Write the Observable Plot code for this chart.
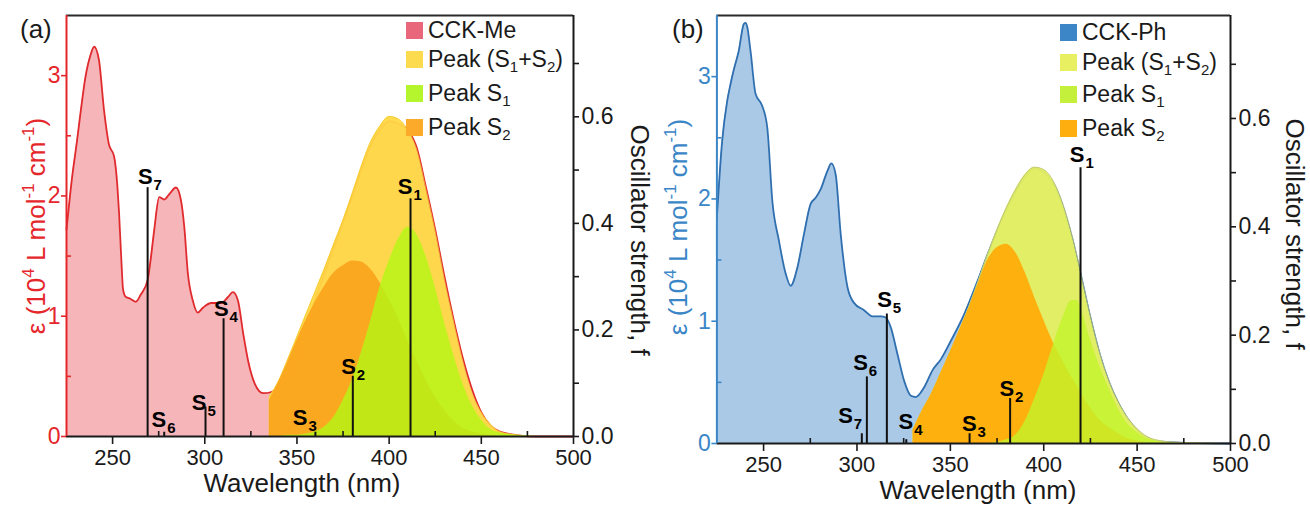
<!DOCTYPE html>
<html><head><meta charset="utf-8">
<script src="https://cdn.jsdelivr.net/npm/d3@7"></script>
<script src="https://cdn.jsdelivr.net/npm/@observablehq/plot@0.6"></script>
<style>
body{margin:0;background:#fff;font-family:"Liberation Sans",Arial,sans-serif}
#wrap{display:flex;width:1310px;height:508px;overflow:hidden}
.panel{position:relative;width:655px;height:508px}
.panel svg{position:absolute;left:0;top:0}
.lg{position:absolute;display:flex;align-items:center;height:22px;font-size:23px;color:#1a1a1a;white-space:nowrap}
.lg .sw{width:17px;height:17px;margin-right:5px;flex:none}
.lg sub{font-size:15px;vertical-align:-5px;line-height:0}
</style></head><body>
<div id="wrap"><div class="panel" id="pa"></div><div class="panel" id="pb"></div></div>
<script>
const FONT = "Liberation Sans, Arial, sans-serif";

// ---------- Panel (a): CCK-Me ----------
const wlMe  = [225,228,230.8,232.6,235.3,238,240,242.6,245.3,248,250.8,252.6,253.5,254.8,255.7,257.2,259,262.6,265.3,269,270.8,272.6,275.3,278,281,284.4,287,288.9,290.8,293.5,296.2,299,303.5,308.9,312.6,315.3,318,320.8,323.5,327.1,331.7,336.2,341.6,347.1,350,355,360,365,370,375,380,385,390,395,400,405,410,415,420,425,430,435,440,445,450,455,460,470,480,500];
const epsMe = [1.72,2.15,2.47,2.69,2.99,3.17,3.24,3.13,2.72,2.43,2.33,2.08,1.86,1.45,1.22,1.16,1.15,1.12,1.18,1.30,1.49,1.72,1.99,1.97,2.02,2.07,1.97,1.74,1.36,1.13,1.03,1.07,1.11,1.11,1.16,1.20,1.13,0.86,0.63,0.44,0.36,0.37,0.44,0.56,0.66,0.90,1.14,1.36,1.57,1.78,2.00,2.22,2.42,2.55,2.62,2.60,2.55,2.40,2.07,1.72,1.33,0.97,0.65,0.39,0.20,0.09,0.04,0.01,0,0];

const wlFitA   = [335,340,345,350,355,360,365,370,375,380,385,390,395,400,405,410,415,420,425,430,435,440,445,450,455,460,470,480,500];
const sumA     = [0.33,0.46,0.64,0.83,1.02,1.21,1.40,1.60,1.80,2.02,2.25,2.45,2.58,2.66,2.64,2.55,2.38,2.05,1.70,1.30,0.95,0.62,0.36,0.20,0.10,0.04,0.01,0,0];
const peakS2A  = [0.30,0.45,0.62,0.80,0.97,1.12,1.25,1.36,1.42,1.46,1.45,1.39,1.28,1.14,0.98,0.80,0.63,0.47,0.33,0.22,0.13,0.07,0.04,0.02,0.01,0,0,0,0];
const peakS1A  = [0,0,0.01,0.01,0.02,0.04,0.08,0.16,0.30,0.47,0.70,0.96,1.24,1.46,1.64,1.74,1.68,1.50,1.24,0.95,0.68,0.44,0.26,0.14,0.06,0.03,0.01,0,0];

const statesA  = ["1","2","3","4","5","6","7"];
const stWlA    = [411.6,380.3,360,310.2,300.4,278,269];
const stFA     = [0.446,0.113,0.008,0.221,0.055,0.008,0.467];
const stDxA    = [2,3,-8,5,1,2,5];
const stDyA    = [-5,-2,-7,-3,3,-5,-4];

// ---------- Panel (b): CCK-Ph ----------
const wlPh  = [225,227.8,230.5,232.3,234.1,236.7,239.4,240.3,241.2,243,245.7,249.3,252,254.7,258.2,261.8,264.5,268.1,271.6,275.2,277.9,280.6,284.2,286.3,288.6,291.3,294.9,298.4,303.8,308.3,312.8,315.4,318.1,321.7,325.3,328.9,331.5,336,340.5,345,350.3,357.5,364.6,370,379,385,390,395,400,405,410,415,420,425,430,435,440,445,450,455,460,470,500];
const epsPh = [1.85,2.47,2.80,2.94,3.06,3.21,3.43,3.44,3.41,3.21,2.86,2.76,2.58,1.98,1.66,1.39,1.29,1.44,1.71,1.96,2.01,2.08,2.23,2.29,2.20,1.71,1.28,1.15,1.09,1.04,1.04,1.03,0.95,0.73,0.51,0.39,0.38,0.46,0.60,0.69,0.84,1.06,1.33,1.55,1.88,2.06,2.18,2.25,2.22,2.13,1.95,1.69,1.37,1.03,0.73,0.50,0.33,0.20,0.11,0.05,0.02,0.01,0];

const wlFitB   = [330,335,340,345,350,355,360,365,370,375,380,385,390,395,400,405,410,415,418,420,425,430,435,440,445,450,455,460,470,500];
const sumB     = [0.11,0.27,0.41,0.58,0.75,0.93,1.12,1.33,1.55,1.75,1.93,2.08,2.20,2.26,2.24,2.15,1.97,1.71,1.52,1.38,1.04,0.74,0.51,0.34,0.21,0.12,0.06,0.03,0.01,0];
const peakS2B  = [0.11,0.27,0.41,0.58,0.75,0.93,1.11,1.31,1.50,1.60,1.63,1.56,1.40,1.20,1.01,0.83,0.68,0.54,0.47,0.41,0.29,0.19,0.13,0.08,0.04,0.02,0.01,0,0,0];
const peakS1B  = [0,0,0,0,0,0,0,0,0,0.01,0.03,0.07,0.18,0.36,0.56,0.80,1.02,1.17,1.17,1.10,0.85,0.63,0.45,0.28,0.16,0.09,0.04,0.02,0,0];

const statesB  = ["1","2","3","4","5","6","7"];
const stWlB    = [419.7,382.0,360.3,326.4,316.0,305.3,302.6];
const stFB     = [0.509,0.083,0.018,0.007,0.239,0.123,0.018];
const stDxB    = [4,4,7,7,5,1,-9];
const stDyB    = [-6,-3,-3,-11,-7,-7,-11];

const xTicks = [250,300,350,400,450,500];
const xMinor = [275,325,375,425,475];
const yTicks = [0,1,2,3];
const yMinor = [0.5,1.5,2.5];
const fTicks = [0,0.2,0.4,0.6];
const fMinor = [0.1,0.3,0.5,0.7];
const K = 4.43; // epsilon units per unit of f (twin axis)

const zip = (xs, ys) => xs.map((x,i) => ({x, y: ys[i]}));

function richText(svg, {x, y, rotate=0, size, fill="#111", anchor="middle", weight="normal"}, parts) {
  const t = d3.select(svg).append("text")
    .attr("transform", `translate(${x},${y}) rotate(${rotate})`)
    .attr("text-anchor", anchor).attr("font-size", size).attr("fill", fill)
    .attr("font-family", FONT).attr("font-weight", weight);
  let shift = 0;
  for (const [s, kind] of parts) {
    const target = kind === "sup" ? -0.42*size : kind === "sub" ? 0.25*size : 0;
    t.append("tspan").attr("dy", target - shift).attr("font-size", kind ? size*0.65 : size).text(s);
    shift = target;
  }
}

function panel(cfg) {
  const abs = zip(cfg.wl, cfg.eps);
  const sum = zip(cfg.wlFit, cfg.sum);
  const s2 = zip(cfg.wlFit, cfg.s2);
  const s1 = zip(cfg.wlFit, cfg.s1);
  const st = cfg.states.map((n,i) => ({n, wl: cfg.stWl[i], f: cfg.stF[i], dx: cfg.stDx[i], dy: cfg.stDy[i]}));
  const curve = "monotone-x";
  const labels = st.flatMap(d => [
    Plot.text([d], {x: "wl", y: v => v.f*K, text: () => "S", textAnchor: "end", lineAnchor: "bottom", dx: d.dx, dy: d.dy, fontSize: 22, fontWeight: "bold", fill: "#000"}),
    Plot.text([d], {x: "wl", y: v => v.f*K, text: "n", textAnchor: "start", lineAnchor: "bottom", dx: d.dx + 1, dy: d.dy + 6, fontSize: 15, fontWeight: "bold", fill: "#000"})
  ]);
  const svg = Plot.plot({
    width: 655, height: 508,
    marginLeft: cfg.ml, marginRight: cfg.mr, marginTop: 15, marginBottom: cfg.mb,
    style: {fontFamily: FONT, background: "transparent", overflow: "visible"},
    x: {domain: [225, 500]},
    y: {domain: [0, 3.5]},
    marks: [
      Plot.areaY(abs, {x: "x", y: "y", fill: cfg.absFill, curve}),
      Plot.lineY(abs, {x: "x", y: "y", stroke: cfg.absLine, strokeWidth: 1.8, curve}),
      Plot.areaY(sum, {x: "x", y: "y", fill: cfg.sumFill, fillOpacity: 0.94, curve}),
      Plot.lineY(sum, {x: "x", y: "y", stroke: cfg.sumEdge, strokeWidth: 0.8, curve}),
      Plot.areaY(s2, {x: "x", y: "y", fill: cfg.s2Fill, fillOpacity: 0.95, curve}),
      Plot.areaY(s1, {x: "x", y: "y", fill: cfg.s1Fill, fillOpacity: 0.78, curve}),
      Plot.ruleX(st, {x: "wl", y1: 0, y2: d => d.f*K, stroke: "#111", strokeWidth: 2}),
      ...labels,
      // frame
      Plot.ruleY([3.5], {stroke: "#2a2a2a", strokeWidth: 2}),
      Plot.ruleY([0], {stroke: "#1a1a1a", strokeWidth: 2}),
      Plot.ruleX([500], {stroke: "#1a1a1a", strokeWidth: 2}),
      Plot.ruleX([225], {stroke: cfg.axisColor, strokeWidth: 2}),
      // axes
      Plot.axisX({ticks: xTicks, tickSize: 8, tickPadding: 5, fontSize: 22, color: "#1a1a1a", strokeWidth: 1.6, label: null}),
      Plot.axisX({ticks: xMinor, tickSize: 5, dy: -5, tickFormat: () => "", color: "#1a1a1a", strokeWidth: 1.6, label: null}),
      Plot.axisY({ticks: yTicks, tickSize: 5, tickPadding: 1, fontSize: 23, color: cfg.axisColor, strokeWidth: 1.6, tickFormat: d => String(d), label: null}),
      Plot.axisY({ticks: yMinor, tickSize: 5, dx: 5, tickFormat: () => "", color: cfg.axisColor, strokeWidth: 1.6, label: null}),
      Plot.axisY({anchor: "right", ticks: fTicks.map(f => f*K), tickSize: 5, tickPadding: 3, fontSize: 23, color: "#1a1a1a", strokeWidth: 1.6, tickFormat: d => (d/K).toFixed(1), label: null}),
      Plot.axisY({anchor: "right", ticks: fMinor.map(f => f*K), tickSize: 5, tickFormat: () => "", color: "#1a1a1a", strokeWidth: 1.6, label: null})
    ]
  });
  // titles
  richText(svg, {x: cfg.xtX, y: cfg.xtY, size: 26, fill: "#1a1a1a"}, [["Wavelength (nm)"]]);
  richText(svg, {x: cfg.ytX, y: cfg.ytY, rotate: -90, size: 26, fill: cfg.axisColor},
    [["ε (10"],["4","sup"],[" L mol"],["-1","sup"],[" cm"],["-1","sup"],[")"]]);
  richText(svg, {x: 631, y: cfg.ftY, rotate: 90, size: 26, fill: "#1a1a1a"}, [["Oscillator strength, f"]]);
  richText(svg, {x: cfg.plX, y: 38, size: 26, fill: "#1a1a1a", anchor: "start"}, [[cfg.panelLabel]]);
  const host = document.getElementById(cfg.id);
  host.appendChild(svg);
  // legend
  const items = [
    [cfg.legend[0], cfg.lgAbs],
    ["Peak (S<sub>1</sub>+S<sub>2</sub>)", cfg.lgSum],
    ["Peak S<sub>1</sub>", cfg.lgS1],
    ["Peak S<sub>2</sub>", cfg.lgS2]
  ];
  items.forEach(([txt, col], i) => {
    const row = document.createElement("div");
    row.className = "lg";
    row.style.left = cfg.lgX + "px";
    row.style.top = (cfg.lgRows[i] - 11) + "px";
    row.innerHTML = `<span class="sw" style="background:${col}"></span><span>${txt}</span>`;
    host.appendChild(row);
  });
}

panel({
  id: "pa", ml: 66, mr: 82, mb: 72,
  wl: wlMe, eps: epsMe, wlFit: wlFitA, sum: sumA, s2: peakS2A, s1: peakS1A,
  states: statesA, stWl: stWlA, stF: stFA, stDx: stDxA, stDy: stDyA,
  absFill: "#f5b5b9", absLine: "#e02a2e", sumFill: "#ffd945", sumEdge: "#f5c830",
  s2Fill: "#fba51f", s1Fill: "#b2f814", axisColor: "#e5262b",
  xtX: 302, xtY: 492, ytX: 45, ytY: 226, ftY: 240, plX: 20, panelLabel: "(a)",
  legend: ["CCK-Me"], lgAbs: "#e8677a", lgSum: "#fddb4e", lgS1: "#b4f52e", lgS2: "#fbaa2a",
  lgX: 406, lgRows: [30, 59, 93, 127]
});
panel({
  id: "pb", ml: 61.4, mr: 80, mb: 65,
  wl: wlPh, eps: epsPh, wlFit: wlFitB, sum: sumB, s2: peakS2B, s1: peakS1B,
  states: statesB, stWl: stWlB, stF: stFB, stDx: stDxB, stDy: stDyB,
  absFill: "#a9c9e6", absLine: "#2f6fb0", sumFill: "#e6f05e", sumEdge: "#b9bf7a",
  s2Fill: "#ffad0a", s1Fill: "#c2f52a", axisColor: "#3a86c6",
  xtX: 323, xtY: 499, ytX: 32, ytY: 227, ftY: 234, plX: 17, panelLabel: "(b)",
  legend: ["CCK-Ph"], lgAbs: "#3c86c8", lgSum: "#e8f062", lgS1: "#c4f03c", lgS2: "#ffae10",
  lgX: 405, lgRows: [32, 62, 94, 128]
});
</script>
</body></html>
